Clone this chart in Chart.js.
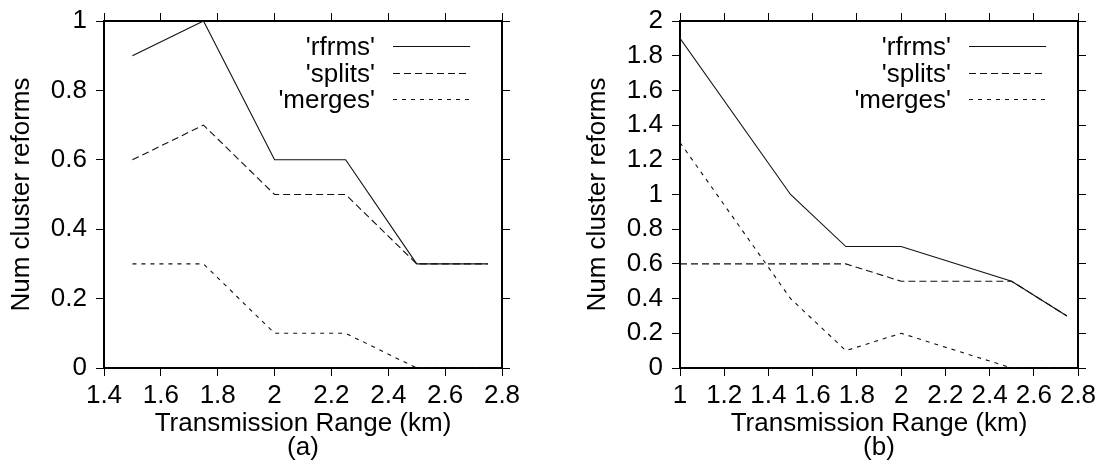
<!DOCTYPE html>
<html>
<head>
<meta charset="utf-8">
<script src="https://cdn.jsdelivr.net/npm/chart.js@4"></script>
<style>
	body { margin: 0; background: #fff; }
	.box { position: absolute; top: 0; height: 460px; }
	#boxA { left: 0; width: 548px; }
	#boxB { left: 548px; width: 549px; }
</style>
</head>
<body>
<div class="box" id="boxA"><canvas id="chartA"></canvas></div>
<div class="box" id="boxB"><canvas id="chartB"></canvas></div>
<script>
// panel (a)
var rangeA = [1.5, 1.75, 2, 2.25, 2.5, 2.75];
var rfrmsA = [0.9, 1.0, 0.6, 0.6, 0.3, 0.3];
var splitsA = [0.6, 0.7, 0.5, 0.5, 0.3, 0.3];
var mergesA = [0.3, 0.3, 0.1, 0.1, 0, 0];

// panel (b)
var rangeB = [1, 1.5, 1.75, 2, 2.5, 2.75];
var rfrmsB = [1.9, 1.0, 0.7, 0.7, 0.5, 0.3];
var splitsB = [0.6, 0.6, 0.6, 0.5, 0.5, 0.3];
var mergesB = [1.3, 0.4, 0.1, 0.2, 0, 0];

var seriesNames = ["'rfrms'", "'splits'", "'merges'"];
var seriesDash = [[], [7, 4], [4, 5]];

Chart.defaults.color = '#000';
Chart.defaults.font.family = '"Liberation Sans", Arial, sans-serif';

function pts(xs, ys) {
	return xs.map(function (x, i) { return { x: x, y: ys[i] }; });
}
function fmt(v) { return String(+(+v).toFixed(1)); }

// key in the top right corner: text right aligned, line sample on its right
var keyPlugin = {
	id: 'gnukey',
	afterDraw: function (chart) {
		var ctx = chart.ctx, a = chart.chartArea;
		ctx.save();
		ctx.font = '26px "Liberation Sans", Arial, sans-serif';
		ctx.textAlign = 'right';
		ctx.textBaseline = 'middle';
		ctx.fillStyle = '#000';
		chart.data.datasets.forEach(function (ds, i) {
			var y = Math.round(a.top + 25 + i * 26.5) + 0.5;
			ctx.fillText(ds.label, a.right - 127, y + 1);
			ctx.beginPath();
			ctx.setLineDash(ds.borderDash || []);
			ctx.strokeStyle = ds.borderColor;
			ctx.lineWidth = ds.borderWidth;
			ctx.moveTo(a.right - 109, y);
			ctx.lineTo(a.right - 32, y);
			ctx.stroke();
		});
		ctx.restore();
	}
};

function makeChart(id, xs, series, xMin, yMax, tag, padLeft, padRight) {
	var bd = { display: true, color: '#000', width: 2 };
	var gd = { drawOnChartArea: false, drawTicks: true, tickLength: 8, tickColor: '#000' };
	return new Chart(document.getElementById(id), {
		type: 'line',
		data: {
			datasets: series.map(function (ys, i) {
				return { label: seriesNames[i], data: pts(xs, ys), borderColor: '#111', borderWidth: 1.1,
					borderDash: seriesDash[i], pointRadius: 0, tension: 0, fill: false };
			})
		},
		options: {
			responsive: true, maintainAspectRatio: false, animation: false,
			layout: { padding: { left: padLeft, right: padRight, top: 21, bottom: 0 } },
			plugins: { legend: { display: false }, tooltip: { enabled: false } },
			scales: {
				x: {
					type: 'linear', min: xMin, max: 2.8, grid: gd, border: bd,
					ticks: { stepSize: 0.2, autoSkip: false, font: { size: 26 }, padding: 4, maxRotation: 0, callback: fmt },
					title: { display: true, text: ['Transmission Range (km)', tag], font: { size: 26, lineHeight: 0.93 }, padding: 0 },
					afterFit: function (s) { s.height = 92; s.paddingLeft = 0; s.paddingRight = 0; }
				},
				x2: {
					type: 'linear', position: 'top', min: xMin, max: 2.8, grid: gd, border: bd,
					ticks: { stepSize: 0.2, display: false },
					afterFit: function (s) { s.height = 0; s.paddingLeft = 0; s.paddingRight = 0; }
				},
				y: {
					type: 'linear', min: 0, max: yMax, grid: gd, border: bd,
					ticks: { stepSize: 0.2, autoSkip: false, font: { size: 26 }, padding: 9, callback: fmt },
					title: { display: true, text: 'Num cluster reforms', font: { size: 26 }, padding: { top: 6, bottom: 0 } },
					afterFit: function (s) { s.width = 104; s.paddingTop = 0; s.paddingBottom = 0; }
				},
				y2: {
					type: 'linear', position: 'right', min: 0, max: yMax, grid: gd, border: bd,
					ticks: { stepSize: 0.2, display: false },
					afterFit: function (s) { s.width = 0; s.paddingTop = 0; s.paddingBottom = 0; }
				}
			}
		},
		plugins: [keyPlugin]
	});
}

makeChart('chartA', rangeA, [rfrmsA, splitsA, mergesA], 1.4, 1, '(a)', 0, 46);
makeChart('chartB', rangeB, [rfrmsB, splitsB, mergesB], 1, 2, '(b)', 28, 19);
</script>
</body>
</html>
